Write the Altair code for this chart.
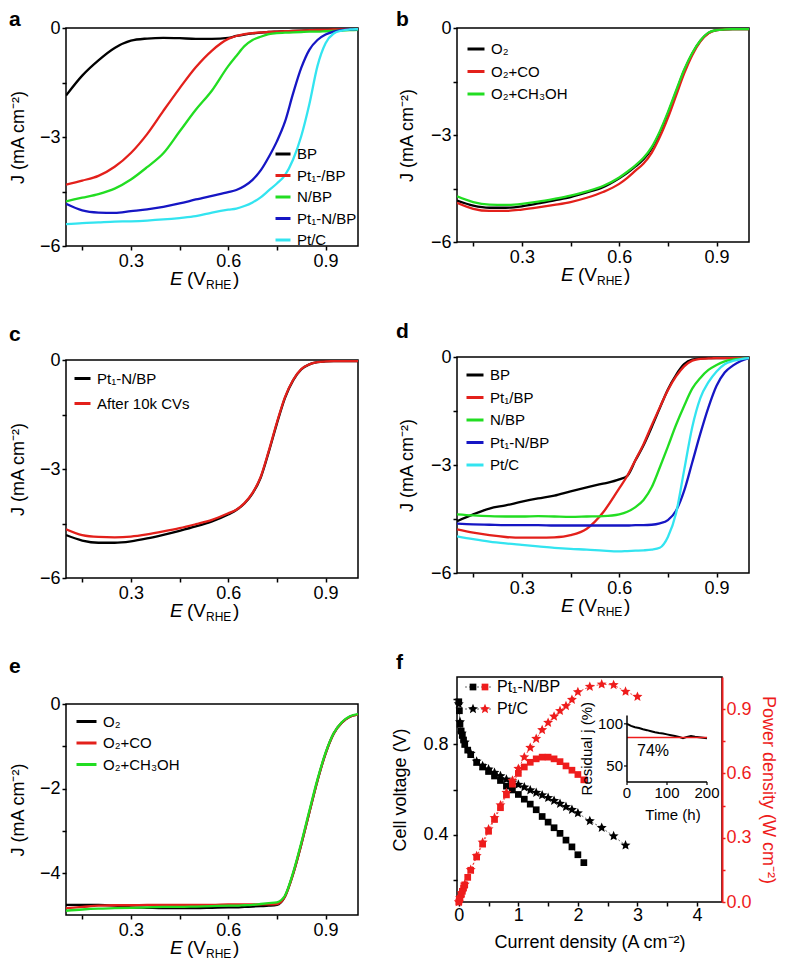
import altair as alt
import pandas as pd

FONT = "Liberation Sans"
BLACK = "#000000"
RED = "#e3201b"
GREEN = "#22dd22"
BLUE = "#1616c4"
CYAN = "#33e4f0"
FRED = "#ee1c1c"
# five-point star as a custom symbol path (unit box -1..1)
STAR = ("M0,-1L0.264,-0.364L0.951,-0.309L0.428,0.139L0.588,0.809L0,0.45"
        "L-0.588,0.809L-0.428,0.139L-0.951,-0.309L-0.264,-0.364Z")

# ---------------- data ----------------
E_GRID = [0.10, 0.15, 0.20, 0.25, 0.30, 0.35, 0.40, 0.45, 0.50, 0.55, 0.60,
          0.625, 0.65, 0.675, 0.70, 0.725, 0.75, 0.775, 0.80, 0.825, 0.85,
          0.875, 0.90, 0.925, 0.95, 0.975, 1.00]

A_NAMES = ["BP", "Pt₁-/BP", "N/BP", "Pt₁-N/BP", "Pt/C"]
A_BP = [-1.86, -1.31, -0.89, -0.55, -0.35, -0.29, -0.27, -0.28, -0.30, -0.30, -0.27,
        -0.22, -0.18, -0.15, -0.13, -0.11, -0.10, -0.09, -0.08, -0.07, -0.06, -0.05,
        -0.05, -0.04, -0.04, -0.03, -0.03]
A_PT1BP = [-4.31, -4.20, -4.07, -3.82, -3.44, -2.92, -2.28, -1.66, -1.08, -0.62, -0.30,
           -0.22, -0.17, -0.14, -0.12, -0.11, -0.10, -0.09, -0.08, -0.07, -0.06, -0.05,
           -0.05, -0.04, -0.04, -0.03, -0.03]
A_NBP = [-4.77, -4.67, -4.57, -4.42, -4.17, -3.83, -3.45, -2.85, -2.25, -1.72, -1.05,
         -0.77, -0.50, -0.33, -0.24, -0.17, -0.14, -0.13, -0.12, -0.11, -0.10, -0.10,
         -0.09, -0.08, -0.07, -0.06, -0.05]
A_PT1NBP = [-4.84, -5.02, -5.08, -5.09, -5.04, -4.99, -4.92, -4.83, -4.72, -4.62, -4.52,
            -4.46, -4.35, -4.18, -3.92, -3.55, -3.12, -2.58, -1.80, -1.10, -0.60, -0.33,
            -0.18, -0.10, -0.06, -0.04, -0.03]
A_PTC = [-5.40, -5.37, -5.35, -5.33, -5.32, -5.30, -5.27, -5.23, -5.18, -5.08, -5.00,
         -4.97, -4.90, -4.80, -4.66, -4.47, -4.28, -4.05, -3.62, -2.98, -2.10, -1.05,
         -0.42, -0.15, -0.07, -0.04, -0.03]

B_NAMES = ["O₂", "O₂+CO", "O₂+CH₃OH"]
B_O2 = [-4.84, -4.98, -5.04, -5.04, -5.00, -4.92, -4.83, -4.74, -4.61, -4.46, -4.21,
        -4.06, -3.88, -3.68, -3.38, -2.94, -2.40, -1.80, -1.20, -0.72, -0.36, -0.14,
        -0.06, -0.04, -0.03, -0.03, -0.03]
B_CO = [-4.90, -5.07, -5.13, -5.13, -5.09, -5.03, -4.96, -4.88, -4.76, -4.60, -4.37,
        -4.20, -4.00, -3.80, -3.50, -3.06, -2.52, -1.90, -1.28, -0.76, -0.38, -0.15,
        -0.06, -0.04, -0.03, -0.03, -0.03]
B_MEOH = [-4.72, -4.88, -4.95, -4.96, -4.93, -4.87, -4.79, -4.70, -4.58, -4.43, -4.19,
          -4.03, -3.85, -3.64, -3.34, -2.90, -2.36, -1.76, -1.17, -0.70, -0.35, -0.13,
          -0.06, -0.04, -0.03, -0.03, -0.03]

C_NAMES = ["Pt₁-N/BP", "After 10k CVs"]
C_PT1NBP = [-4.82, -4.97, -5.03, -5.03, -4.99, -4.91, -4.81, -4.70, -4.58, -4.44, -4.25,
            -4.13, -3.95, -3.67, -3.24, -2.53, -1.75, -1.04, -0.56, -0.26, -0.12, -0.06,
            -0.04, -0.03, -0.03, -0.03, -0.03]
C_10K = [-4.66, -4.82, -4.87, -4.88, -4.86, -4.80, -4.72, -4.63, -4.52, -4.40, -4.22,
         -4.12, -3.94, -3.66, -3.22, -2.50, -1.72, -1.02, -0.55, -0.25, -0.12, -0.06,
         -0.04, -0.03, -0.03, -0.03, -0.03]

D_NAMES = ["BP", "Pt₁/BP", "N/BP", "Pt₁-N/BP", "Pt/C"]
D_BP = [-4.56, -4.37, -4.21, -4.12, -4.02, -3.93, -3.85, -3.73, -3.62, -3.52, -3.40,
        -3.30, -2.87, -2.45, -1.95, -1.42, -0.90, -0.50, -0.20, -0.07, -0.04, -0.03,
        -0.03, -0.03, -0.03, -0.03, -0.03]
D_PT1BP = [-4.79, -4.88, -4.95, -5.00, -5.02, -5.02, -5.01, -4.95, -4.77, -4.32, -3.65,
           -3.30, -2.86, -2.42, -1.90, -1.40, -0.92, -0.54, -0.26, -0.10, -0.05, -0.04,
           -0.03, -0.03, -0.03, -0.03, -0.03]
D_NBP = [-4.37, -4.40, -4.42, -4.43, -4.43, -4.42, -4.43, -4.44, -4.43, -4.42, -4.37,
         -4.30, -4.17, -3.97, -3.62, -3.07, -2.49, -1.89, -1.36, -0.88, -0.58, -0.36,
         -0.22, -0.12, -0.07, -0.05, -0.03]
D_PT1NBP = [-4.63, -4.65, -4.66, -4.67, -4.67, -4.67, -4.68, -4.68, -4.68, -4.68, -4.68,
            -4.68, -4.67, -4.67, -4.66, -4.62, -4.53, -4.27, -3.72, -2.93, -2.13, -1.40,
            -0.80, -0.43, -0.24, -0.11, -0.03]
D_PTC = [-4.98, -5.06, -5.13, -5.18, -5.22, -5.26, -5.30, -5.33, -5.35, -5.38, -5.40,
         -5.39, -5.38, -5.37, -5.35, -5.30, -5.00, -4.35, -3.15, -1.95, -1.14, -0.70,
         -0.40, -0.20, -0.11, -0.06, -0.03]

E_NAMES = ["O₂", "O₂+CO", "O₂+CH₃OH"]
E_O2 = [-4.74, -4.74, -4.74, -4.76, -4.80, -4.81, -4.82, -4.82, -4.82, -4.81, -4.80,
        -4.80, -4.79, -4.78, -4.77, -4.76, -4.74, -4.54, -4.01, -3.32, -2.56, -1.81,
        -1.17, -0.70, -0.44, -0.30, -0.25]
E_CO = [-4.82, -4.79, -4.76, -4.75, -4.75, -4.74, -4.74, -4.74, -4.74, -4.74, -4.73,
        -4.73, -4.73, -4.73, -4.73, -4.73, -4.72, -4.54, -4.01, -3.32, -2.56, -1.81,
        -1.17, -0.70, -0.44, -0.30, -0.25]
E_MEOH = [-4.88, -4.85, -4.83, -4.82, -4.81, -4.80, -4.79, -4.79, -4.78, -4.77, -4.76,
          -4.76, -4.75, -4.74, -4.72, -4.70, -4.68, -4.52, -3.98, -3.28, -2.52, -1.78,
          -1.15, -0.69, -0.43, -0.29, -0.24]

PTN_I = [0.0, 0.01, 0.02, 0.04, 0.06, 0.08, 0.1, 0.15, 0.2, 0.3, 0.4, 0.5, 0.6, 0.7,
         0.8, 0.9, 1.0, 1.1, 1.2, 1.3, 1.4, 1.5, 1.6, 1.7, 1.8, 1.9, 2.0, 2.1]
PTN_V = [0.99, 0.95, 0.89, 0.86, 0.84, 0.82, 0.80, 0.775, 0.755, 0.72, 0.70, 0.68, 0.66,
         0.64, 0.615, 0.598, 0.578, 0.557, 0.535, 0.51, 0.48, 0.455, 0.43, 0.405, 0.375,
         0.345, 0.31, 0.275]
PTN_P = [0.0, 0.01, 0.018, 0.034, 0.05, 0.066, 0.08, 0.115, 0.148, 0.21, 0.27, 0.33,
         0.385, 0.44, 0.5, 0.55, 0.6, 0.63, 0.652, 0.668, 0.676, 0.676, 0.668, 0.655,
         0.635, 0.615, 0.595, 0.57]
PTC_I_V = [0.0, 0.02, 0.05, 0.1, 0.2, 0.3, 0.4, 0.5, 0.6, 0.7, 0.8, 0.9, 1.0, 1.1, 1.2,
           1.3, 1.4, 1.5, 1.6, 1.7, 1.8, 1.9, 2.0, 2.2, 2.4, 2.6, 2.8]
PTC_V = [0.98, 0.90, 0.85, 0.81, 0.76, 0.725, 0.705, 0.69, 0.675, 0.66, 0.645, 0.632,
         0.622, 0.61, 0.597, 0.586, 0.575, 0.563, 0.55, 0.537, 0.523, 0.51, 0.495, 0.46,
         0.43, 0.393, 0.352]
PTC_I_P = [0.0, 0.02, 0.05, 0.1, 0.2, 0.3, 0.4, 0.5, 0.6, 0.7, 0.8, 0.9, 1.0, 1.1, 1.2,
           1.3, 1.4, 1.5, 1.6, 1.7, 1.8, 1.9, 2.0, 2.2, 2.4, 2.6, 2.8, 3.0]
PTC_P = [0.0, 0.018, 0.043, 0.082, 0.15, 0.215, 0.278, 0.34, 0.393, 0.452, 0.51, 0.567,
         0.622, 0.676, 0.72, 0.762, 0.803, 0.837, 0.866, 0.892, 0.915, 0.944, 0.98, 1.005,
         1.016, 1.013, 0.982, 0.958]

INSET_T = [0, 10, 20, 30, 40, 50, 60, 70, 80, 90, 100, 110, 120, 130, 140, 150, 160,
           170, 180, 190, 200]
INSET_R = [100, 97.5, 96, 95, 93.5, 92.5, 91.3, 90, 89, 88.5, 87.5, 86.5, 85.5, 84.5,
           83, 84.5, 85.5, 84.6, 84, 83.5, 83]
INSET_REF = 83.8
INSET_XTICKS = [0, 100, 200]
INSET_YTICKS = [50, 100]

ONE = pd.DataFrame({"k": [0]})


def txt(text, x, y, size=19, italic=False, bold=False, align="left",
        baseline="alphabetic", color=BLACK, angle=0):
    kw = dict(text=text, font=FONT, fontSize=size, align=align, baseline=baseline,
              color=color)
    if italic:
        kw["fontStyle"] = "italic"
    if bold:
        kw["fontWeight"] = "bold"
    if angle:
        kw["angle"] = angle
    return alt.Chart(ONE).mark_text(**kw).encode(x=alt.value(x), y=alt.value(y))


def ec_panel(names, series, colors, W, H, ydom, yvals, ymod, leg, letter, lx, ly, ytp):
    rows = []
    for n, vals in zip(names, series):
        for e, j in zip(E_GRID, vals):
            rows.append({"E": e, "J": j, "s": n})
    df = pd.DataFrame(rows)
    xaxis = alt.Axis(values=[0.15, 0.3, 0.45, 0.6, 0.75, 0.9],
                     labelExpr="round(datum.value*100) % 30 == 0 ? format(datum.value, '.1f') : ''",
                     title=None)
    yexpr = "datum.value % " + str(ymod) + " == 0 ? format(datum.value, 'd') : ''"
    yaxis = alt.Axis(values=yvals, labelExpr=yexpr, title="J (mA cm⁻²)", titlePadding=ytp)
    lines = alt.Chart(df).mark_line(strokeWidth=2.3, interpolate="monotone", clip=True).encode(
        x=alt.X("E:Q", scale=alt.Scale(domain=[0.1, 1.0], nice=False, zero=False), axis=xaxis),
        y=alt.Y("J:Q", scale=alt.Scale(domain=ydom, nice=False, zero=False), axis=yaxis),
        color=alt.Color("s:N", scale=alt.Scale(domain=names, range=colors),
                        legend=alt.Legend(title=None, orient="none", legendX=leg[0],
                                          legendY=leg[1], rowPadding=leg[2],
                                          symbolSize=leg[3])),
    )
    c = W / 2
    parts = [lines,
             txt("E", c - 42, H + 39, 19, italic=True),
             txt("(V", c - 25, H + 39, 19),
             txt("RHE", c - 6, H + 43, 12),
             txt(")", c + 21, H + 39, 19),
             txt(letter, lx, ly, 21, bold=True)]
    return alt.layer(*parts).properties(width=W, height=H)


Y6 = [-6, -4.5, -3, -1.5, 0]

pa = ec_panel(A_NAMES, [A_BP, A_PT1BP, A_NBP, A_PT1NBP, A_PTC],
              [BLACK, RED, GREEN, BLUE, CYAN], 292, 218, [-6, 0], Y6, 3,
              (208, 117, 4.5, 225), "a", -57, -2, 12)
pb = ec_panel(B_NAMES, [B_O2, B_CO, B_MEOH], [BLACK, RED, GREEN], 292, 214, [-6, 0], Y6, 3,
              (9, 11, 4.5, 289), "b", -61, -2, 14)
pc = ec_panel(C_NAMES, [C_PT1NBP, C_10K], [BLACK, RED], 292, 218, [-6, 0], Y6, 3,
              (7, 9, 7, 256), "c", -57, -19, 12)
pd_ = ec_panel(D_NAMES, [D_BP, D_PT1BP, D_NBP, D_PT1NBP, D_PTC],
               [BLACK, RED, GREEN, BLUE, CYAN], 292, 216, [-6, 0], Y6, 3,
               (8, 8, 4.5, 289), "d", -61, -19, 14)
pe = ec_panel(E_NAMES, [E_O2, E_CO, E_MEOH], [BLACK, RED, GREEN], 292, 211, [-4.98, 0],
              [-4, -3, -2, -1, 0], 2, (9, 6, 1.5, 400), "e", -57, -31, 12)

# ---------------- panel f ----------------
FW, FH = 265, 225
XD = [-0.03, 4.42]
VD = [0.1, 1.1]
xsF = alt.Scale(domain=XD, nice=False, zero=False)
vsF = alt.Scale(domain=VD, nice=False, zero=False)
psF = alt.Scale(domain=[0.0, 1.05], nice=False, zero=False)

ax_bottom = alt.Axis(orient="bottom", values=[0, 0.5, 1, 1.5, 2, 2.5, 3, 3.5, 4],
                     labelExpr="datum.value % 1 == 0 ? format(datum.value, 'd') : ''",
                     title="Current density (A cm⁻²)", labelPadding=0, titlePadding=9)
ax_left = alt.Axis(orient="left", values=[0.2, 0.4, 0.6, 0.8, 1.0],
                   labelExpr="round(datum.value*10) % 4 == 0 ? format(datum.value, '.1f') : ''",
                   title="Cell voltage (V)", labelPadding=5, titlePadding=13)
ax_right = alt.Axis(orient="right", values=[0, 0.15, 0.3, 0.45, 0.6, 0.75, 0.9],
                    labelExpr="round(datum.value*100) % 30 == 0 ? format(datum.value, '.1f') : ''",
                    title="Power density (W cm⁻²)", tickColor=FRED, labelColor=FRED,
                    titleColor=FRED, domain=True, domainColor=FRED, domainWidth=2,
                    tickSize=3, labelPadding=1, titlePadding=7)

dfN = pd.DataFrame({"I": PTN_I, "V": PTN_V, "P": PTN_P})
dfCV = pd.DataFrame({"I": PTC_I_V, "V": PTC_V})
dfCP = pd.DataFrame({"I": PTC_I_P, "P": PTC_P})
dfIn = pd.DataFrame({"t": INSET_T, "r": INSET_R})
dfRef = pd.DataFrame({"t0": [INSET_T[0]], "t1": [INSET_T[-1]], "r": [INSET_REF]})
dfXT = pd.DataFrame({"t": INSET_XTICKS})
dfYT = pd.DataFrame({"r": INSET_YTICKS})

# inset placement (pixels inside panel f) -> expressed in the main scales' units
IN_L, IN_R, IN_B, IN_T = 170, 250, 105, 38.4
T_DOM, R_DOM = (0, 200), (31, 110)


def px2I(px):
    return XD[0] + px / FW * (XD[1] - XD[0])


def px2V(py):
    return VD[1] - py / FH * (VD[1] - VD[0])


I_EXPR = "%f + (datum.{f} - %f) * %f" % (px2I(IN_L), T_DOM[0],
                                          (px2I(IN_R) - px2I(IN_L)) / (T_DOM[1] - T_DOM[0]))
V_EXPR = "%f + (datum.{f} - %f) * %f" % (px2V(IN_B), R_DOM[0],
                                          (px2V(IN_T) - px2V(IN_B)) / (R_DOM[1] - R_DOM[0]))


def Ix(f):
    return I_EXPR.replace("{f}", f)


def Vy(f):
    return V_EXPR.replace("{f}", f)


def X_():
    return alt.X("I:Q", scale=xsF, axis=ax_bottom)


def YV(axis=None):
    return alt.Y("V:Q", scale=vsF, axis=axis)


def YP(axis=None):
    return alt.Y("P:Q", scale=psF, axis=axis)


dash = dict(strokeWidth=0.8, strokeDash=[2, 2])
f_layers = [
    alt.Chart(dfN).mark_line(color="#444", **dash).encode(x=X_(), y=YV(ax_left)),
    alt.Chart(dfN).mark_line(color=FRED, **dash).encode(x=X_(), y=YP(ax_right)),
    alt.Chart(dfCV).mark_line(color="#444", **dash).encode(x=X_(), y=YV()),
    alt.Chart(dfCP).mark_line(color=FRED, **dash).encode(x=X_(), y=YP()),
    alt.Chart(dfN).mark_point(shape="square", filled=True, size=45, color=BLACK,
                              opacity=1).encode(x=X_(), y=YV()),
    alt.Chart(dfCV).mark_point(shape=STAR, filled=True, size=110, color=BLACK,
                               opacity=1).encode(x=X_(), y=YV()),
    alt.Chart(dfN).mark_point(shape="square", filled=True, size=45, color=FRED,
                              opacity=1).encode(x=X_(), y=YP()),
    alt.Chart(dfCP).mark_point(shape=STAR, filled=True, size=110, color=FRED,
                               opacity=1).encode(x=X_(), y=YP()),
    # ---- inset ----
    alt.Chart(dfIn).transform_calculate(I=Ix("t"), V=Vy("r")).mark_line(
        color=BLACK, strokeWidth=2).encode(x=X_(), y=YV()),
    alt.Chart(dfRef).transform_calculate(I=Ix("t0"), I2=Ix("t1"), V=Vy("r")).mark_rule(
        color=FRED, strokeWidth=1.5).encode(x=X_(), x2="I2:Q", y=YV()),
    alt.Chart(ONE).mark_rule(color=BLACK, strokeWidth=1.5).encode(
        x=alt.value(IN_L), y=alt.value(IN_T), y2=alt.value(IN_B)),
    alt.Chart(ONE).mark_rule(color=BLACK, strokeWidth=1.5).encode(
        x=alt.value(IN_L), x2=alt.value(IN_R), y=alt.value(IN_B)),
    alt.Chart(dfXT).transform_calculate(I=Ix("t")).mark_rule(
        color=BLACK, strokeWidth=1.2).encode(x=X_(), y=alt.value(IN_B), y2=alt.value(IN_B + 3)),
    alt.Chart(dfXT).transform_calculate(I=Ix("t")).mark_text(
        font=FONT, fontSize=15, baseline="top", color=BLACK).encode(
        x=X_(), y=alt.value(IN_B + 4), text=alt.Text("t:Q", format="d")),
    alt.Chart(dfYT).transform_calculate(V=Vy("r")).mark_rule(
        color=BLACK, strokeWidth=1.2).encode(y=YV(), x=alt.value(IN_L - 3), x2=alt.value(IN_L)),
    alt.Chart(dfYT).transform_calculate(V=Vy("r")).mark_text(
        font=FONT, fontSize=15, align="right", baseline="middle", color=BLACK).encode(
        y=YV(), x=alt.value(IN_L - 4), text=alt.Text("r:Q", format="d")),
    txt("Time (h)", (IN_L + IN_R) / 2 + 6, IN_B + 33, 15, align="center", baseline="middle"),
    txt("Residual j (%)", IN_L - 40, (IN_T + IN_B) / 2, 15, align="center",
        baseline="middle", angle=270),
    txt("74%", IN_L + 10, 74, 16, baseline="middle"),
    # ---- legend ----
    alt.Chart(ONE).mark_rule(color="#444", **dash).encode(
        x=alt.value(8), x2=alt.value(36), y=alt.value(10)),
    alt.Chart(ONE).mark_rule(color="#444", **dash).encode(
        x=alt.value(8), x2=alt.value(36), y=alt.value(32)),
    alt.Chart(ONE).mark_point(shape="square", filled=True, size=45, color=BLACK,
                              opacity=1).encode(x=alt.value(16), y=alt.value(10)),
    alt.Chart(ONE).mark_point(shape="square", filled=True, size=45, color=FRED,
                              opacity=1).encode(x=alt.value(28), y=alt.value(10)),
    alt.Chart(ONE).mark_point(shape=STAR, filled=True, size=110, color=BLACK,
                              opacity=1).encode(x=alt.value(16), y=alt.value(32)),
    alt.Chart(ONE).mark_point(shape=STAR, filled=True, size=110, color=FRED,
                              opacity=1).encode(x=alt.value(28), y=alt.value(32)),
    txt("Pt₁-N/BP", 40, 10, 16, baseline="middle"),
    txt("Pt/C", 40, 32, 16, baseline="middle"),
    txt("f", -61, -8, 21, bold=True),
]
pf = alt.layer(*f_layers).resolve_scale(y="independent").properties(width=FW, height=FH)

col1 = alt.vconcat(pa, pc, pe, spacing=31).resolve_scale(color="independent")
col2 = alt.vconcat(pb, pd_, pf, spacing=32).resolve_scale(color="independent")

chart = alt.hconcat(col1, col2, spacing=32).resolve_scale(color="independent").properties(
    padding=0
).configure(font=FONT).configure_view(stroke=BLACK, strokeWidth=1.5).configure_axis(
    labelFont=FONT, titleFont=FONT, labelFontSize=18, titleFontSize=18, labelColor=BLACK,
    titleColor=BLACK, tickColor=BLACK, tickSize=4, tickWidth=1.5, domain=False, grid=False,
    titleFontWeight="normal", labelPadding=2
).configure_legend(
    labelFont=FONT, labelFontSize=15, symbolType="stroke", symbolStrokeWidth=3,
    labelOffset=5, padding=0, labelColor=BLACK, labelLimit=300
)

chart.save("out.html", embed_options={"renderer": "svg", "actions": False})
